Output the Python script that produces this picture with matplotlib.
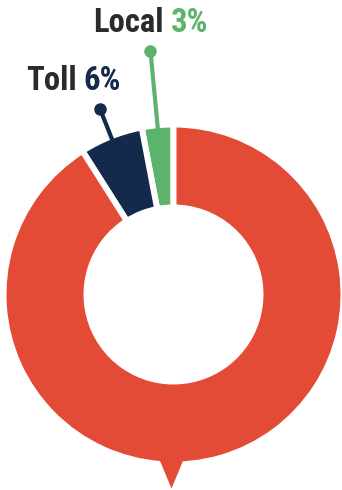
import matplotlib
matplotlib.use('Agg')
import matplotlib.pyplot as plt
from matplotlib.patches import Polygon
import numpy as np

# share of calls by type
labels = ['Local', 'Toll', 'Other']
shares = [3, 6, 91]
colors = ['#5cb36b', '#132a4c', '#e44b37']
label_colors = ['#5cb36b', '#132a4c', None]
dot_radius = [245, 200, None]

W, H = 342, 490
cx, cy = 173.5, H - 294.5
R = 170
ring = 83

fig = plt.figure(figsize=(W / 100, H / 100), dpi=100)
ax = fig.add_axes([0, 0, 1, 1])

wedges, _ = ax.pie(shares, colors=colors, startangle=90, counterclock=True,
                   center=(cx, cy), radius=R, frame=True,
                   wedgeprops=dict(width=ring, edgecolor='white', linewidth=4.3))
ax.set_xlim(0, W)
ax.set_ylim(0, H)
ax.set_aspect('equal')
ax.axis('off')

# little pointer under the ring
tip = Polygon([[cx - 17, cy - R + 12], [cx + 13, cy - R + 12], [cx - 2, cy - R - 24]],
              closed=True, color=colors[2], lw=0, zorder=3)
ax.add_patch(tip)

# leader lines with a dot at the end
for w, rd, c in zip(wedges, dot_radius, label_colors):
    if rd is None:
        continue
    mid = np.deg2rad((w.theta1 + w.theta2) / 2)
    x0, y0 = cx + (R - 6) * np.cos(mid), cy + (R - 6) * np.sin(mid)
    x1, y1 = cx + rd * np.cos(mid), cy + rd * np.sin(mid)
    ax.plot([x0, x1], [y0, y1], color=c, lw=3, solid_capstyle='butt', zorder=1)
    ax.plot(x1, y1, 'o', color=c, ms=8, zorder=1)

font = dict(family=['Roboto Condensed', 'Roboto', 'DejaVu Sans'], weight='bold', size=23.5)
ax.text(164, H - 32, 'Local', color='#2b2b2b', ha='right', va='baseline', **font)
ax.text(171, H - 32, '3%', color=label_colors[0], ha='left', va='baseline', **font)
ax.text(77, H - 90, 'Toll', color='#2b2b2b', ha='right', va='baseline', **font)
ax.text(83, H - 90, '6%', color=label_colors[1], ha='left', va='baseline', **font)

fig.savefig('out.png', dpi=100, facecolor='white')
